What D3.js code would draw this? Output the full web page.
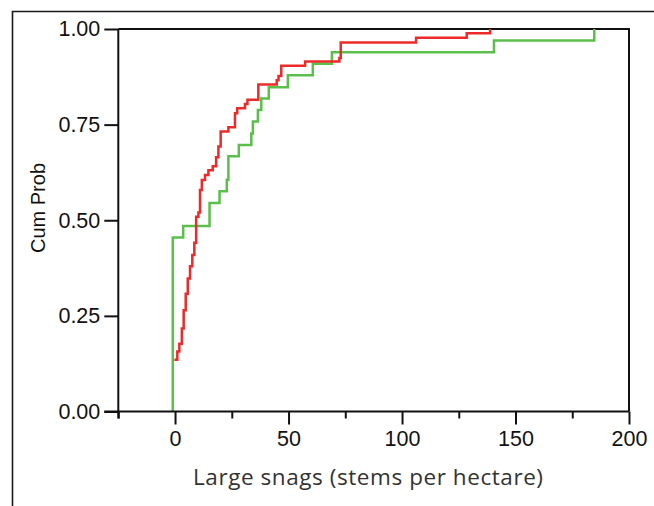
<!DOCTYPE html>
<html>
<head>
<meta charset="utf-8">
<script src="https://cdn.jsdelivr.net/npm/d3@7"></script>
<style>
  html, body { margin: 0; padding: 0; background: #fff; }
  svg { display: block; }
</style>
</head>
<body>
<svg id="chart" width="654" height="506"></svg>
<script>
// Empirical cumulative distributions of large snag density.
// Each pair gives a step position (stems per hectare) and the cumulative
// probability reached at that step.
const redX = [-0.3, 1.0, 1.9, 3.0, 3.8, 4.7, 5.6, 6.6, 7.6, 8.5, 9.3, 10.3, 11.0, 11.8,
  13.2, 14.7, 16.6, 18.1, 19.1, 20.1, 23.5, 26.4, 27.4, 30.8, 31.9, 36.7, 44.8, 45.6,
  46.8, 57.3, 72.4, 73.0, 106.2, 128.5, 138.8];
const redP = [0.135, 0.157, 0.177, 0.217, 0.265, 0.308, 0.348, 0.380, 0.409, 0.441, 0.509,
  0.520, 0.579, 0.605, 0.618, 0.631, 0.641, 0.665, 0.693, 0.732, 0.743, 0.780, 0.793,
  0.804, 0.815, 0.855, 0.866, 0.877, 0.904, 0.915, 0.924, 0.965, 0.977, 0.989, 1.0];

const greenX = [-1, -1, 3.6, 15.2, 19.6, 22.8, 23.5, 28.1, 33.6, 34.3, 36.5, 38.0, 41.3,
  49.7, 60.7, 69.1, 140.5, 184.7];
const greenP = [0, 0.455, 0.485, 0.545, 0.576, 0.606, 0.667, 0.697, 0.727, 0.758, 0.788,
  0.818, 0.848, 0.879, 0.909, 0.939, 0.970, 1.0];

const yTicks = [0, 0.25, 0.5, 0.75, 1.0];
const xMajorTicks = [0, 50, 100, 150, 200];
const xMinorTicks = [-25, 25, 75, 125, 175];

const svg = d3.select("#chart");

const x = d3.scaleLinear().domain([-25, 200]).range([118.3, 629]);
const y = d3.scaleLinear().domain([0, 1]).range([411.5, 29]);

// outer panel border (left and top edges only are in view)
svg.append("path")
  .attr("d", "M12.5,506 L12.5,11.5 L654,11.5")
  .attr("fill", "none").attr("stroke", "#1a1a1a").attr("stroke-width", 1.6);

// plot frame: top and right edges
svg.append("path")
  .attr("d", `M${x(-25)},${y(1)} L${x(200)},${y(1)} L${x(200)},${y(0)}`)
  .attr("fill", "none").attr("stroke", "#111").attr("stroke-width", 2);

// step curves
const line = d3.line()
  .x(d => x(d[0]))
  .y(d => y(d[1]))
  .curve(d3.curveStepAfter);

const series = [
  { xs: greenX, ps: greenP, color: "#5bbf4b" },
  { xs: redX, ps: redP, color: "#ec2a2a" }
];

svg.selectAll("path.ecdf")
  .data(series)
  .join("path")
  .attr("class", "ecdf")
  .attr("d", s => line(s.xs.map((v, i) => [v, s.ps[i]])))
  .attr("fill", "none")
  .attr("stroke", s => s.color)
  .attr("stroke-width", 2.5)
  .attr("stroke-linejoin", "miter");

// y axis
const yAxis = svg.append("g")
  .attr("transform", `translate(${x(-25)},0)`)
  .call(d3.axisLeft(y).tickValues(yTicks).tickSize(14).tickPadding(4)
    .tickFormat(d3.format(".2f")));
yAxis.select(".domain").attr("stroke", "#111").attr("stroke-width", 2)
  .attr("d", `M0,${y(1)}V${y(0) + 7}`);
yAxis.selectAll(".tick line").attr("stroke", "#111").attr("stroke-width", 2);
yAxis.selectAll("text")
  .attr("font-family", "Liberation Sans, Arial, sans-serif")
  .attr("font-size", 21.5).attr("fill", "#111");

// x axis: major ticks with labels
const xAxis = svg.append("g")
  .attr("transform", `translate(0,${y(0)})`)
  .call(d3.axisBottom(x).tickValues(xMajorTicks).tickSize(13).tickPadding(6)
    .tickFormat(d3.format("d")));
xAxis.select(".domain").attr("stroke", "#111").attr("stroke-width", 2)
  .attr("d", `M${x(-25) - 14},0H${x(200)}`);
xAxis.selectAll(".tick line").attr("stroke", "#111").attr("stroke-width", 2);
xAxis.selectAll("text")
  .attr("font-family", "Liberation Sans, Arial, sans-serif")
  .attr("font-size", 21.5).attr("fill", "#111");

// x axis: minor ticks
svg.append("g")
  .attr("transform", `translate(0,${y(0)})`)
  .call(d3.axisBottom(x).tickValues(xMinorTicks).tickSize(7).tickFormat(""))
  .call(g => g.select(".domain").remove())
  .selectAll(".tick line").attr("stroke", "#111").attr("stroke-width", 2);

// axis titles
svg.append("text")
  .attr("transform", `translate(45,208) rotate(-90)`)
  .attr("text-anchor", "middle")
  .attr("font-family", "Liberation Sans, Arial, sans-serif")
  .attr("font-size", 20).attr("fill", "#111")
  .text("Cum Prob");

svg.append("text")
  .attr("x", 368).attr("y", 485)
  .attr("text-anchor", "middle")
  .attr("font-family", "Open Sans, sans-serif")
  .attr("font-size", 22.5).attr("fill", "#333")
  .attr("textLength", 350).attr("lengthAdjust", "spacing")
  .text("Large snags (stems per hectare)");
</script>
</body>
</html>
